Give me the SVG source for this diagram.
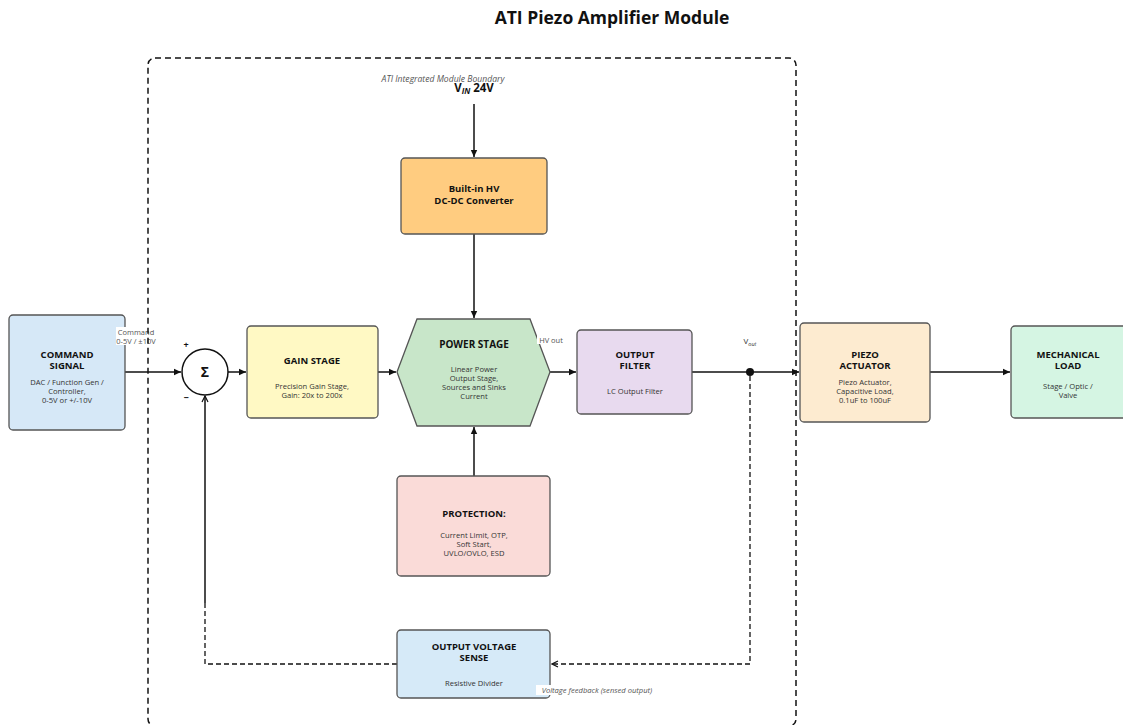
<svg xmlns="http://www.w3.org/2000/svg" width="1123" height="725" viewBox="0 0 1123 725">
<defs>
<marker id="ah" markerWidth="8" markerHeight="8" refX="7" refY="4" orient="auto" markerUnits="userSpaceOnUse">
<path d="M0,0.8 L7,4 L0,7.2 Z" fill="#111"/>
</marker>
<marker id="ao" markerWidth="8" markerHeight="8" refX="7" refY="4" orient="auto" markerUnits="userSpaceOnUse">
<path d="M1,1 L7,4 L1,7" fill="none" stroke="#111" stroke-width="1.2"/>
</marker>
<style>
text{font-family:"Open Sans","Noto Sans","Liberation Sans",sans-serif;text-anchor:middle;fill:#111}
.t{font-size:9.5px;font-weight:700}
.s{font-size:7.6px;fill:#333}
.box{stroke:#555;stroke-width:1.3}
.c{stroke:#111;stroke-width:1.5;fill:none}
.d{stroke:#111;stroke-width:1.3;fill:none;stroke-dasharray:5,3}
.lbl{font-size:7.5px;fill:#555}
</style>
</defs>
<rect width="1123" height="725" fill="#fff"/>
<text x="612" y="24" style="font-size:17.5px;font-weight:700">ATI Piezo Amplifier Module</text>
<g id="vin">
<text x="474" y="92" style="font-size:11.5px;font-weight:700">V<tspan font-size="8px" dy="2" font-style="italic">IN</tspan><tspan dy="-2"> 24V</tspan></text>
</g>
<g id="connectors">
<line class="c" x1="474" y1="104" x2="474" y2="157" marker-end="url(#ah)"/>
<line class="c" x1="474" y1="234" x2="474" y2="318" marker-end="url(#ah)"/>
<line class="c" x1="125" y1="372" x2="181" y2="372" marker-end="url(#ah)"/>
<line class="c" x1="228" y1="372" x2="246" y2="372" marker-end="url(#ah)"/>
<line class="c" x1="378" y1="372" x2="396" y2="372" marker-end="url(#ah)"/>
<line class="c" x1="550" y1="372" x2="576" y2="372" marker-end="url(#ah)"/>
<line class="c" x1="692" y1="372" x2="799" y2="372" marker-end="url(#ah)"/>
<line class="c" x1="930" y1="372" x2="1010" y2="372" marker-end="url(#ah)"/>
<line class="c" x1="474" y1="476" x2="474" y2="427" marker-end="url(#ah)"/>
<circle cx="750" cy="372" r="4" fill="#111"/>
<polyline class="d" points="750,376 750,664 552,664" marker-end="url(#ao)"/>
<polyline class="d" points="397,664 205,664 205,603"/>
<line class="c" x1="205" y1="603" x2="205" y2="396" stroke-width="1.3" marker-end="url(#ao)"/>
</g>
<g id="hv_dcdc">
<rect class="box" x="401" y="158" width="146" height="76" rx="4" fill="#ffcc80"/>
<text class="t" x="474" y="192">Built-in HV</text>
<text class="t" x="474" y="204">DC-DC Converter</text>
</g>
<g id="command_signal">
<rect class="box" x="9" y="315" width="116" height="115" rx="4" fill="#d6e8f7"/>
<text class="t" x="67" y="358">COMMAND</text>
<text class="t" x="67" y="369">SIGNAL</text>
<text class="s" x="67" y="385">DAC / Function Gen /</text>
<text class="s" x="67" y="394">Controller,</text>
<text class="s" x="67" y="403">0-5V or +/-10V</text>
</g>
<g id="summing">
<circle cx="205" cy="372" r="23" fill="#fff" stroke="#111" stroke-width="1.5"/>
<text x="205" y="377" style="font-size:14px;font-weight:700">Σ</text>
<text x="186" y="348" style="font-size:9px;font-weight:700">+</text>
<text x="186" y="401" style="font-size:9px;font-weight:700">−</text>
</g>
<g id="gain_stage">
<rect class="box" x="247" y="326" width="131" height="92" rx="4" fill="#fff9c4"/>
<text class="t" x="312" y="364">GAIN STAGE</text>
<text class="s" x="312" y="389">Precision Gain Stage,</text>
<text class="s" x="312" y="398">Gain: 20x to 200x</text>
</g>
<g id="power_stage">
<polygon points="397,372 417,319 530,319 550,372 530,426 417,426" fill="#c8e6c9" stroke="#555" stroke-width="1.3"/>
<text class="t" x="474" y="348" style="font-size:10px">POWER STAGE</text>
<text class="s" x="474" y="372">Linear Power</text>
<text class="s" x="474" y="381">Output Stage,</text>
<text class="s" x="474" y="390">Sources and Sinks</text>
<text class="s" x="474" y="399">Current</text>
</g>
<g id="output_filter">
<rect class="box" x="577" y="330" width="115" height="84" rx="4" fill="#e8daef"/>
<text class="t" x="635" y="358">OUTPUT</text>
<text class="t" x="635" y="369">FILTER</text>
<text class="s" x="635" y="394">LC Output Filter</text>
</g>
<g id="piezo_actuator">
<rect class="box" x="800" y="323" width="130" height="99" rx="4" fill="#fdebd0"/>
<text class="t" x="865" y="358">PIEZO</text>
<text class="t" x="865" y="369">ACTUATOR</text>
<text class="s" x="865" y="385">Piezo Actuator,</text>
<text class="s" x="865" y="394">Capacitive Load,</text>
<text class="s" x="865" y="403">0.1uF to 100uF</text>
</g>
<g id="mechanical_load">
<rect class="box" x="1011" y="326" width="122" height="92" rx="4" fill="#d5f5e3"/>
<text class="t" x="1068" y="358">MECHANICAL</text>
<text class="t" x="1068" y="369">LOAD</text>
<text class="s" x="1068" y="389">Stage / Optic /</text>
<text class="s" x="1068" y="398">Valve</text>
</g>
<g id="protection">
<rect class="box" x="397" y="476" width="153" height="100" rx="4" fill="#fadbd8"/>
<text class="t" x="474" y="517">PROTECTION:</text>
<text class="s" x="474" y="538">Current Limit, OTP,</text>
<text class="s" x="474" y="547">Soft Start,</text>
<text class="s" x="474" y="556">UVLO/OVLO, ESD</text>
</g>
<g id="output_voltage_sense">
<rect class="box" x="397" y="630" width="153" height="68" rx="4" fill="#d6eaf8"/>
<text class="t" x="474" y="650">OUTPUT VOLTAGE</text>
<text class="t" x="474" y="661">SENSE</text>
<text class="s" x="474" y="686">Resistive Divider</text>
</g>
<g id="edge_labels">
<rect x="116" y="327" width="40" height="18" fill="#fff"/>
<text class="lbl" x="136" y="335">Command</text>
<text class="lbl" x="136" y="344">0-5V / ±10V</text>
<rect x="537" y="335" width="28" height="9" fill="#fff"/>
<text class="lbl" x="551" y="343">HV out</text>
<text x="750" y="344" style="font-size:8px;fill:#333">V<tspan font-size="5.5px" dy="1.5" font-style="italic">out</tspan></text>
<rect x="536" y="685" width="123" height="10" fill="#fff"/>
<text x="597" y="693" style="font-size:7.6px;font-style:italic;fill:#555">Voltage feedback (sensed output)</text>
</g>
<g id="boundary">
<rect x="148" y="58" width="648" height="668" rx="7" fill="none" stroke="#111" stroke-width="1.5" stroke-dasharray="6,4"/>
<text x="443" y="82" style="font-size:8.6px;font-style:italic;fill:#555">ATI Integrated Module Boundary</text>
</g>
</svg>
